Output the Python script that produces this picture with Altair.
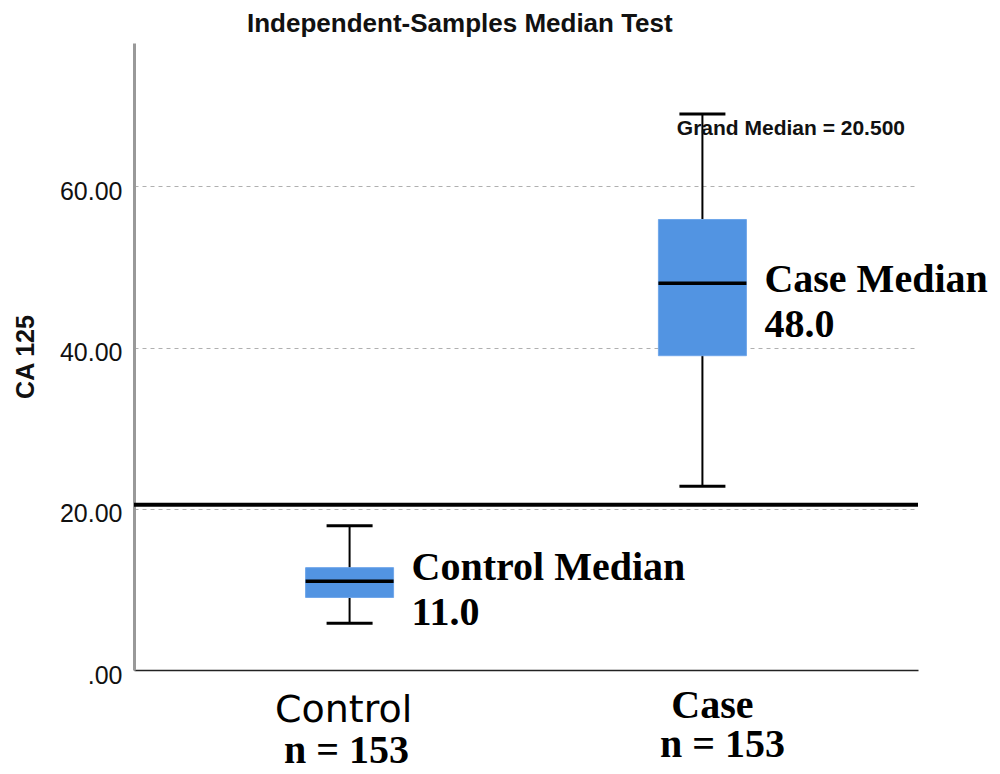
import altair as alt
import pandas as pd

# ---- data ----
groups = ["Control", "Case"]
whisker_low = [5.8, 22.8]
q1 = [9.0, 39.0]
medians = [11.0, 48.0]
q3 = [12.7, 55.9]
whisker_high = [17.9, 69.0]
n_counts = [153, 153]
grand_median = 20.5
y_ticks = [0, 20, 40, 60]
y_max = 77.8
title_text = "Independent-Samples Median Test"
y_title = "CA 125"

df = pd.DataFrame({
    "group": groups,
    "low": whisker_low,
    "q1": q1,
    "median": medians,
    "q3": q3,
    "high": whisker_high,
    "n": n_counts,
})
df["median_label"] = [f"{g} Median\n{m:.1f}" for g, m in zip(groups, medians)]
df["n_label"] = [f"n = {n}" for n in n_counts]

gm_df = pd.DataFrame({"gm": [grand_median],
                      "gm_label": [f"Grand Median = {grand_median:.3f}"]})

W, H = 784, 627
BOX_COLOR = "#5294E2"

x_enc = alt.X(
    "group:N", sort=groups,
    scale=alt.Scale(type="point", padding=0.611),
    axis=alt.Axis(labels=False, ticks=False, title=None, grid=False,
                  domainColor="#222222", domainWidth=1.5),
)

y_scale = alt.Scale(domain=[0, y_max], nice=False, zero=True)
y_axis = alt.Axis(
    values=y_ticks,
    labelExpr="datum.value == 0 ? '.00' : format(datum.value, '.2f')",
    labelFont="Liberation Sans", labelFontSize=25, labelColor="#111111",
    labelPadding=12, labelOffset=5,
    ticks=False,
    domainColor="#999999", domainWidth=3,
    grid=True, gridDash=[4, 4], gridColor="#b0b0b0", gridWidth=1,
    title=y_title, titleFont="Liberation Sans", titleFontSize=25,
    titleFontWeight="bold", titleColor="#111111",
    titleAngle=270, titleBaseline="bottom", titleAlign="center",
    titleX=-96, titleY=H / 2,
)


def yenc(field):
    return alt.Y(f"{field}:Q", scale=y_scale, axis=y_axis)


base = alt.Chart(df)

whiskers = base.mark_rule(color="black", strokeWidth=2).encode(
    x=x_enc, y=yenc("low"), y2="high:Q")

cap_low = base.mark_tick(color="black", size=46, thickness=3, opacity=1).encode(
    x=x_enc, y=yenc("low"))
cap_high = base.mark_tick(color="black", size=46, thickness=3, opacity=1).encode(
    x=x_enc, y=yenc("high"))

boxes = base.mark_bar(size=88, color=BOX_COLOR, stroke="#6FA6EA",
                      strokeWidth=1, opacity=1).encode(
    x=x_enc, y=yenc("q1"), y2="q3:Q")

median_ticks = base.mark_tick(color="black", size=88, thickness=3.5,
                              opacity=1).encode(
    x=x_enc, y=yenc("median"))

grand_line = alt.Chart(gm_df).mark_rule(color="black", strokeWidth=4).encode(
    y=alt.Y("gm:Q", scale=y_scale, axis=y_axis))

grand_text = alt.Chart(gm_df).mark_text(
    align="right", baseline="alphabetic", font="Liberation Sans",
    fontSize=21, fontWeight="bold", color="#111111",
).encode(x=alt.value(771), y=alt.value(92), text="gm_label:N")

title_mark = alt.Chart(gm_df).mark_text(
    align="left", baseline="alphabetic", font="Liberation Sans",
    fontSize=26, fontWeight="bold", color="#111111",
).encode(x=alt.value(113), y=alt.value(-11), text=alt.value(title_text))


def median_text(group, dy):
    return base.transform_filter(alt.datum.group == group).mark_text(
        align="left", baseline="alphabetic", dx=62, dy=dy,
        font="Liberation Serif", fontSize=40, fontWeight="bold",
        color="black", lineBreak="\n", lineHeight=45,
    ).encode(x=x_enc, y=yenc("median"), text="median_label:N")


def cat_text(group, field, yv, dx, font, size, weight):
    return base.transform_filter(alt.datum.group == group).mark_text(
        align="center", baseline="alphabetic", dx=dx,
        font=font, fontSize=size, fontWeight=weight, color="black",
    ).encode(x=x_enc, y=alt.value(yv), text=f"{field}:N")


layers = [
    whiskers, cap_low, cap_high, boxes, median_ticks, grand_line,
    grand_text, title_mark,
    median_text("Case", 9),
    median_text("Control", -1),
    cat_text("Control", "group", 679, -6, "DejaVu Sans", 38, "normal"),
    cat_text("Control", "n_label", 720, -3, "Liberation Serif", 40, "bold"),
    cat_text("Case", "group", 675, 10, "Liberation Serif", 40, "bold"),
    cat_text("Case", "n_label", 714, 20, "Liberation Serif", 40, "bold"),
]

chart = alt.layer(*layers).properties(
    width=W, height=H,
    padding={"left": 126, "top": 35, "right": 74, "bottom": 96},
    autosize=alt.AutoSizeParams(type="none"),
    background="white",
).configure_view(stroke=None)

chart.save("out.html", embed_options={"renderer": "svg", "actions": False})
